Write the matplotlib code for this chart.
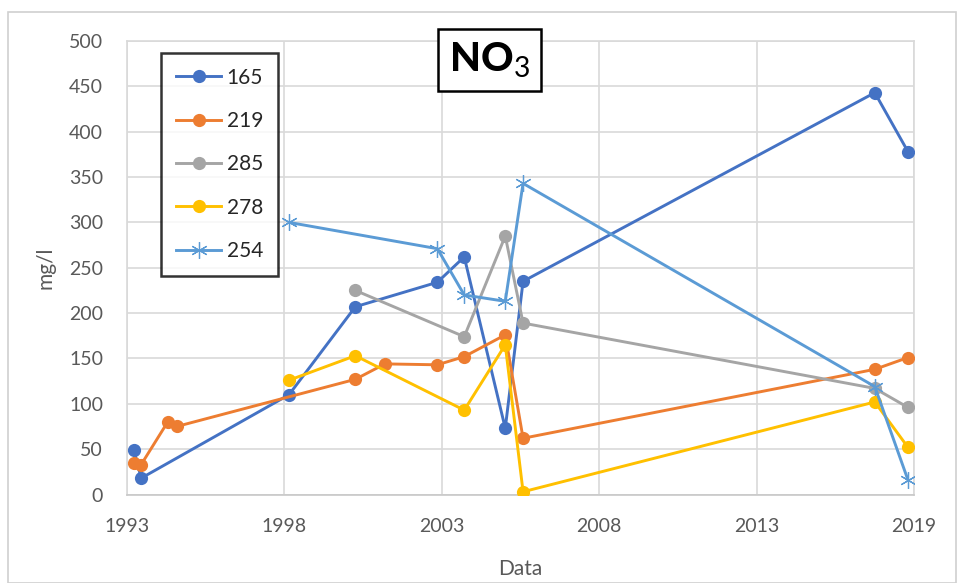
#!/usr/bin/env python3
"""Plot NO3 concentrations in five wells over time."""

import matplotlib

matplotlib.use("Agg")
import matplotlib.pyplot as plt
from matplotlib.patches import Rectangle

# sampling dates as decimal years
dates_165 = [1993.24, 1993.48, 1998.38, 2000.58, 2003.30, 2004.19, 2005.55, 2006.14, 2017.80, 2018.90]
no3_165 = [49, 18, 110, 207, 234, 262, 73, 235, 443, 378]

dates_219 = [1993.24, 1993.48, 1994.36, 1994.66, 2000.58, 2001.56, 2003.30, 2004.19, 2005.55, 2006.14, 2017.80, 2018.90]
no3_219 = [35, 33, 80, 75, 127, 144, 143, 152, 176, 62, 138, 151]

dates_285 = [2000.58, 2004.19, 2005.55, 2006.14, 2017.80, 2018.90]
no3_285 = [225, 174, 285, 189, 117, 96]

dates_278 = [1998.38, 2000.58, 2004.19, 2005.55, 2006.14, 2017.80, 2018.90]
no3_278 = [126, 153, 93, 165, 3, 102, 52]

dates_254 = [1998.38, 2003.30, 2004.19, 2005.55, 2006.14, 2017.80, 2018.90]
no3_254 = [300, 271, 220, 213, 343, 119, 16]

tick_positions = [1993.0, 1998.22, 2003.44, 2008.66, 2013.88, 2019.1]
tick_labels = ["1993", "1998", "2003", "2008", "2013", "2019"]

plt.rcParams["font.family"] = ["Lato", "DejaVu Sans"]
plt.rcParams["mathtext.fontset"] = "custom"
plt.rcParams["mathtext.rm"] = "Lato"
plt.rcParams["mathtext.bf"] = "Lato:black"

W, H = 958, 583
fig = plt.figure(figsize=(W / 100, H / 100), dpi=100)
fig.patch.set_facecolor("white")

# chart area border
fig.add_artist(Rectangle((8 / W, 0), (W - 10) / W, (H - 12) / H, transform=fig.transFigure,
                         fill=False, edgecolor="#D0D0D0", linewidth=1.2))

left, right, top, bottom = 126.7, 914, 41, 494.5
ax = fig.add_axes([left / W, 1 - bottom / H, (right - left) / W, (bottom - top) / H])

series = [
    ("165", dates_165, no3_165, "#4472C4", "o"),
    ("219", dates_219, no3_219, "#ED7D31", "o"),
    ("285", dates_285, no3_285, "#A5A5A5", "o"),
    ("278", dates_278, no3_278, "#FFC000", "o"),
    ("254", dates_254, no3_254, "#5B9BD5", (6, 2, 0)),
]
for name, x, y, color, marker in series:
    if marker == "o":
        ax.plot(x, y, color=color, linewidth=2.1, marker="o", markersize=9.5,
                markeredgewidth=0, label=name, zorder=3)
    else:
        ax.plot(x, y, color=color, linewidth=2.1, marker=marker, markersize=12,
                markeredgewidth=0.9, markeredgecolor=color, label=name, zorder=3)

ax.set_xlim(1993.0, 2019.1)
ax.set_ylim(0, 500)
ax.set_yticks(range(0, 501, 50))
ax.set_xticks(tick_positions, tick_labels)
ax.grid(True, color="#D9D9D9", linewidth=1.2)
ax.set_axisbelow(True)
for side in ax.spines:
    ax.spines[side].set_color("#D9D9D9")
    ax.spines[side].set_linewidth(1.2)
ax.spines["bottom"].set_color("#C8C8C8")
ax.tick_params(length=0, labelsize=14, labelcolor="#595959")
ax.tick_params(axis="y", pad=17)
ax.tick_params(axis="x", pad=17)

ax.set_xlabel("Data", fontsize=15, color="#595959", labelpad=17)
ax.set_ylabel("mg/l", fontsize=15, color="#595959", labelpad=10)

ax.text(0.461, 0.958, r"$\mathbf{NO}_{3}$", transform=ax.transAxes, ha="center", va="center",
        fontsize=29, color="black",
        bbox=dict(boxstyle="square,pad=0.28", facecolor="white", edgecolor="black", linewidth=1.8))

leg = ax.legend(loc="upper left", bbox_to_anchor=(0.0436, 0.9735), borderaxespad=0,
                fontsize=15, frameon=True, fancybox=False, edgecolor="black",
                handlelength=2.2, handletextpad=0.25, labelspacing=1.12, borderpad=0.7)
leg.get_frame().set_linewidth(1.8)
for text in leg.get_texts():
    text.set_color("#262626")

fig.savefig("out.png", dpi=100)
